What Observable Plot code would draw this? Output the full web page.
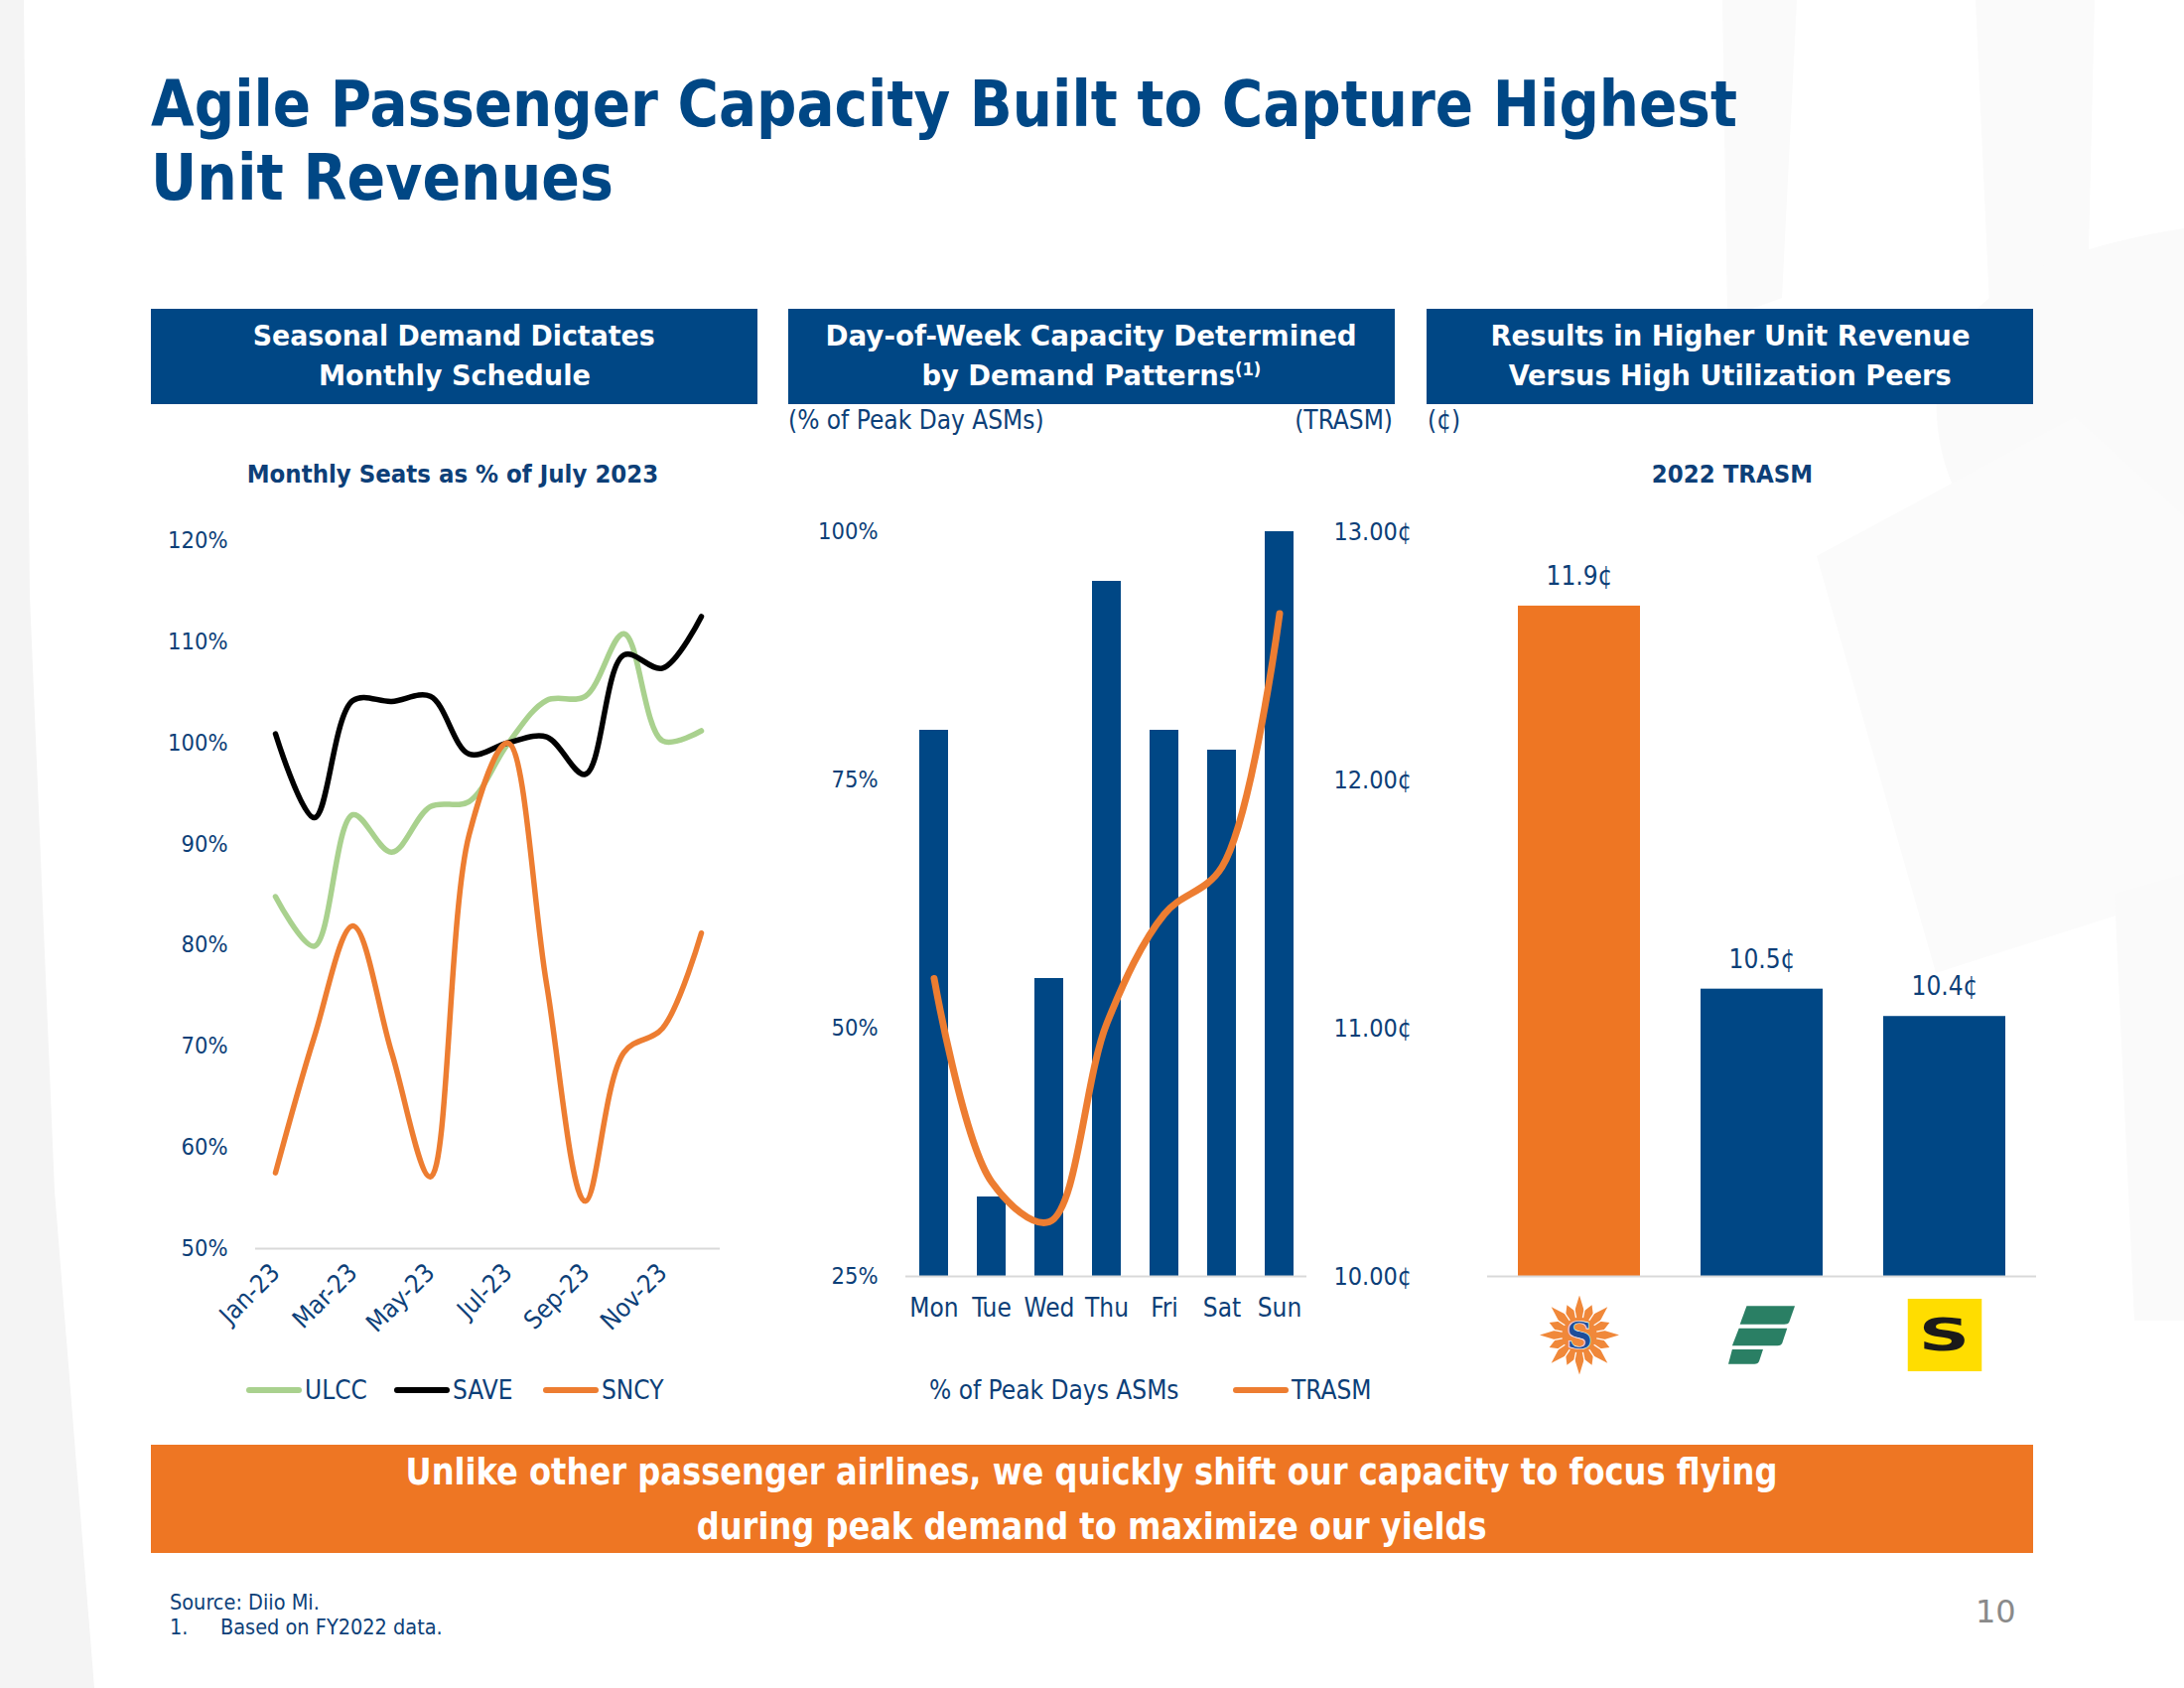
<!DOCTYPE html>
<html><head><meta charset="utf-8">
<script src="https://cdn.jsdelivr.net/npm/d3@7"></script>
<script src="https://cdn.jsdelivr.net/npm/@observablehq/plot@0.6"></script>
<style>
body{margin:0;background:#fff;}
#page{position:relative;width:2200px;height:1700px;overflow:hidden;background:#fff;
  font-family:"DejaVu Sans Condensed","DejaVu Sans",sans-serif;font-stretch:condensed;color:#0D3F78;}
.abs{position:absolute;white-space:nowrap;}
.fit{display:inline-block;white-space:nowrap;}
.title{left:152px;top:68px;font-weight:bold;font-size:64px;line-height:74px;color:#004785;}
.title .fit{transform-origin:left center;}
.hdr{position:absolute;top:311px;height:96px;width:611px;background:#004785;color:#fff;font-weight:bold;
  font-size:28px;line-height:40px;text-align:center;display:flex;flex-direction:column;justify-content:center;}
.hdr .fit{transform-origin:center center;}
.sub{top:406px;font-size:26px;line-height:34px;}
.ctitle{font-weight:bold;font-size:25.5px;line-height:32px;top:461px;transform:translateX(-50%);}
.banner{position:absolute;left:152px;top:1455px;width:1896px;height:109px;background:#EE7623;color:#fff;
  font-weight:bold;font-size:38px;line-height:55px;text-align:center;}
.banner .fit{transform-origin:center center;}
.legend{font-size:26px;line-height:34px;top:1383px;}
.sw{display:inline-block;width:56px;height:6px;border-radius:3px;vertical-align:middle;margin-right:3px;position:relative;top:-2px;}
.chart{position:absolute;}
.foot{font-size:21.5px;line-height:26px;}
</style></head>
<body><div id="page">
<svg class="abs" style="left:0;top:0" width="2200" height="1700">
  <path d="M0,0 L24,0 L30,600 L55,1200 L95,1700 L0,1700 Z" fill="#f4f4f4"/>
  <path d="M1735,0 L1810,0 L1795,300 L1740,320 Z" fill="#fafafa"/>
  <path d="M1990,0 L2110,0 L2100,420 L2010,440 Z" fill="#fafafa"/>
  <path d="M2200,230 C2010,260 1920,330 1960,470 C2000,600 2200,640 2200,640 Z" fill="#fafafa"/>
  <path d="M1830,560 L2090,420 L2200,520 L2200,900 L1950,980 Z" fill="#fbfbfb"/>
  <path d="M2130,900 L2200,880 L2200,1330 L2150,1330 Z" fill="#fafafa"/>
</svg>

<div class="abs title">
  <div><span class="fit" data-w="1598">Agile Passenger Capacity Built to Capture Highest</span></div>
  <div><span class="fit" data-w="466">Unit Revenues</span></div>
</div>

<div class="hdr" style="left:152px"><div><span class="fit" data-w="405">Seasonal Demand Dictates</span></div><div><span class="fit" data-w="274">Monthly Schedule</span></div></div>
<div class="hdr" style="left:794px"><div><span class="fit" data-w="535">Day-of-Week Capacity Determined</span></div><div><span class="fit" data-w="342">by Demand Patterns<sup style="font-size:60%;line-height:0">(1)</sup></span></div></div>
<div class="hdr" style="left:1437px"><div><span class="fit" data-w="483">Results in Higher Unit Revenue</span></div><div><span class="fit" data-w="446">Versus High Utilization Peers</span></div></div>

<div class="abs sub" style="left:794px">(% of Peak Day ASMs)</div>
<div class="abs sub" style="right:797px">(TRASM)</div>
<div class="abs sub" style="left:1438px">(¢)</div>

<div class="abs ctitle" style="left:456px">Monthly Seats as % of July 2023</div>
<div class="abs ctitle" style="left:1745px">2022 TRASM</div>

<div id="c1" class="chart" style="left:150px;top:430px"></div>
<div id="c2" class="chart" style="left:790px;top:430px"></div>
<div id="c3" class="chart" style="left:1440px;top:430px"></div>

<div class="abs legend" style="left:248px"><span class="sw" style="background:#A9D18E"></span>ULCC</div>
<div class="abs legend" style="left:397px"><span class="sw" style="background:#000"></span>SAVE</div>
<div class="abs legend" style="left:547px"><span class="sw" style="background:#ED7D31"></span>SNCY</div>
<div class="abs legend" style="left:936px">% of Peak Days ASMs</div>
<div class="abs legend" style="left:1242px"><span class="sw" style="background:#ED7D31"></span>TRASM</div>

<div class="banner">
  <div><span class="fit" data-w="1382">Unlike other passenger airlines, we quickly shift our capacity to focus flying</span></div>
  <div><span class="fit" data-w="796">during peak demand to maximize our yields</span></div>
</div>

<div class="abs foot" style="left:171px;top:1601px;">Source: Diio Mi.</div>
<div class="abs foot" style="left:171px;top:1626px;">1.</div>
<div class="abs foot" style="left:222px;top:1626px;">Based on FY2022 data.</div>
<div class="abs" style="left:1990px;top:1603px;font-size:32px;line-height:40px;color:#8a8a8a;font-family:'DejaVu Sans';font-stretch:normal;">10</div>
</div>

<script>
// ---------- DATA ----------
const months = ["Jan-23","Feb-23","Mar-23","Apr-23","May-23","Jun-23","Jul-23","Aug-23","Sep-23","Oct-23","Nov-23","Dec-23"];
const monthTicks = ["Jan-23","Mar-23","May-23","Jul-23","Sep-23","Nov-23"];
const seatSeries = ["ULCC","SAVE","SNCY"];
const ulcc = [84.8,79.9,92.9,89.2,93.7,94.2,99.9,104.2,104.6,110.8,100.2,101.2];
const save = [100.9,92.6,104.2,104.1,104.6,98.9,100.0,100.6,96.9,108.7,107.4,112.5];
const sncy = [57.5,70.9,81.9,69.4,57.1,90.9,100.0,76.2,54.7,69.4,71.8,81.2];
const seatTicks = [50,60,70,80,90,100,110,120];

const days = ["Mon","Tue","Wed","Thu","Fri","Sat","Sun"];
const peakPct = [80,33,55,95,80,78,100];
const trasmDay = [11.20,10.38,10.22,11.02,11.46,11.65,12.67];
const pctTicks = [25,50,75,100];
const trasmTicks = [10,11,12,13];

const airlines = ["SNCY","ULCC","SAVE"];
const trasm2022 = [11.9,10.5,10.4];

// ---------- STYLE ----------
const BLUE = "#004785", ORANGE = "#ED7D31", BARORANGE = "#EE7623", GREEN = "#A9D18E", TXT = "#0D3F78";
const FONT = "'DejaVu Sans Condensed','DejaVu Sans',sans-serif";
const baseStyle = {fontFamily: FONT, fontSize: "23px", color: TXT, background: "none", overflow: "visible", fontStretch: "condensed"};

// ---------- CHART 1 ----------
const seatRows = [];
const seatVals = {ULCC: ulcc, SAVE: save, SNCY: sncy};
seatSeries.forEach(s => months.forEach((m, i) => seatRows.push({m, s, v: seatVals[s][i]})));

const c1 = Plot.plot({
  width: 595, height: 937, marginLeft: 107, marginRight: 20, marginTop: 114, marginBottom: 110,
  style: baseStyle,
  x: {type: "point", domain: months, padding: 0.5, label: null},
  y: {domain: [seatTicks[0], seatTicks[seatTicks.length - 1]], label: null},
  color: {domain: seatSeries, range: [GREEN, "#000000", ORANGE]},
  marks: [
    Plot.ruleY([seatTicks[0]], {stroke: "#d9d9d9", strokeWidth: 2}),
    Plot.axisY(seatTicks, {tickSize: 0, tickPadding: 28, tickFormat: d => d + "%", fontSize: 23.5, label: null}),
    Plot.axisX(monthTicks, {tickSize: 0, tickPadding: 20, tickRotate: -45, fontSize: 25.5, label: null}),
    Plot.line(seatRows, {x: "m", y: "v", z: "s", stroke: "s", strokeWidth: 5.5, curve: "catmull-rom"})
  ]
});
document.getElementById("c1").append(c1);

// ---------- CHART 2 ----------
const dayRows = days.map((d, i) => ({d, p: peakPct[i], t: trasmDay[i]}));
const pMin = pctTicks[0], pMax = pctTicks[pctTicks.length - 1];
const tMin = trasmTicks[0], tMax = trasmTicks[trasmTicks.length - 1];
const toPct = t => pMin + (t - tMin) * (pMax - pMin) / (tMax - tMin);
const fromPct = p => tMin + (p - pMin) * (tMax - tMin) / (pMax - pMin);

const c2 = Plot.plot({
  width: 636, height: 915, marginLeft: 122, marginRight: 110, marginTop: 105, marginBottom: 60,
  style: baseStyle,
  x: {domain: days, paddingInner: 0.5, paddingOuter: 0.22, label: null},
  y: {domain: [pMin, pMax], label: null},
  marks: [
    Plot.barY(dayRows, {x: "d", y1: pMin, y2: "p", fill: BLUE}),
    Plot.ruleY([pMin], {stroke: "#d9d9d9", strokeWidth: 2}),
    Plot.axisY(pctTicks, {anchor: "left", tickSize: 0, tickPadding: 28, fontSize: 23.5, tickFormat: d => d + "%", label: null}),
    Plot.axisY(trasmTicks.map(toPct), {anchor: "right", tickSize: 0, tickPadding: 27, fontSize: 25, tickFormat: d => fromPct(d).toFixed(2) + "¢", label: null}),
    Plot.axisX({tickSize: 0, tickPadding: 22, fontSize: 26, label: null}),
    Plot.line(dayRows, {x: "d", y: d => toPct(d.t), stroke: ORANGE, strokeWidth: 7, curve: "catmull-rom"})
  ]
});
document.getElementById("c2").append(c2);

// ---------- CHART 3 ----------
const peerRows = airlines.map((a, i) => ({a, v: trasm2022[i]}));
const enc = s => "data:image/svg+xml;charset=utf-8," + encodeURIComponent(s);
function sunLogo() {
  const pts = [];
  for (let k = 0; k < 32; k++) {
    const a = k * Math.PI / 16 - Math.PI / 2;
    const r = k % 2 ? 31 : (k % 4 === 0 ? 50 : 41);
    pts.push((50 + r * Math.cos(a)).toFixed(1) + "," + (50 + r * Math.sin(a)).toFixed(1));
  }
  let rays = "";
  for (let k = 0; k < 16; k++) {
    const a = k * Math.PI / 8 + Math.PI / 16;
    rays += `<line x1="${(50 + 22 * Math.cos(a)).toFixed(1)}" y1="${(50 + 22 * Math.sin(a)).toFixed(1)}" x2="${(50 + 40 * Math.cos(a)).toFixed(1)}" y2="${(50 + 40 * Math.sin(a)).toFixed(1)}" stroke="#fff" stroke-width="1.6"/>`;
  }
  return `<svg xmlns="http://www.w3.org/2000/svg" viewBox="0 0 100 100"><polygon points="${pts.join(" ")}" fill="#F0883A"/>${rays}<ellipse cx="50" cy="51" rx="17" ry="20" fill="#F0883A"/><text x="50" y="67" text-anchor="middle" font-family="DejaVu Serif" font-weight="bold" font-size="46" fill="#1E4E9A" stroke="#fff" stroke-width="0.8">S</text></svg>`;
}
const frontierLogo = `<svg xmlns="http://www.w3.org/2000/svg" viewBox="0 0 70 64"><g fill="#2A7F64"><path d="M19,2 L69,2 L63,19 Q62,21 58,21 L12,21 Z"/><path d="M11,25 L61,25 L56,40 Q55,43 51,43 L4,43 Z"/><path d="M4,47 L36,47 L32,59 Q31,62 27,62 L0,62 Z"/></g></svg>`;
const spiritLogo = `<svg xmlns="http://www.w3.org/2000/svg" viewBox="0 0 75 73"><rect width="75" height="73" fill="#FFDD00"/><text x="0" y="0" transform="translate(37,52) scale(1.55,0.95)" text-anchor="middle" font-family="DejaVu Sans" font-weight="bold" font-size="46" fill="#1a1a1a">S</text></svg>`;
const logos = {SNCY: enc(sunLogo()), ULCC: enc(frontierLogo), SAVE: enc(spiritLogo)};
const logoSize = {SNCY: [80, 80], ULCC: [68, 63], SAVE: [75, 73]};

const yBase = 9.45, yTop = 12.19;
const c3 = Plot.plot({
  width: 631, height: 955, marginLeft: 58, marginRight: 20, marginTop: 100, marginBottom: 100,
  style: baseStyle,
  x: {domain: airlines, paddingInner: 0.33, paddingOuter: 0.16, axis: null},
  y: {domain: [yBase, yTop], axis: null},
  color: {domain: airlines, range: [BARORANGE, BLUE, BLUE]},
  marks: [
    Plot.barY(peerRows, {x: "a", y1: yBase, y2: "v", fill: "a"}),
    Plot.ruleY([yBase], {stroke: "#d9d9d9", strokeWidth: 2}),
    Plot.text(peerRows, {x: "a", y: "v", text: d => d.v.toFixed(1) + "¢", dy: -30, fontSize: 26, fill: TXT}),
    ...airlines.map(a => Plot.image(peerRows.filter(d => d.a === a), {
      x: "a", src: d => logos[d.a], frameAnchor: "bottom", dy: 59,
      width: logoSize[a][0], height: logoSize[a][1]
    }))
  ]
});
document.getElementById("c3").append(c3);

// ---------- fit text widths ----------
document.querySelectorAll(".fit[data-w]").forEach(el => {
  const w = el.getBoundingClientRect().width;
  if (w > 0) el.style.transform = `scaleX(${(+el.dataset.w / w).toFixed(4)})`;
});
</script>
</body></html>
